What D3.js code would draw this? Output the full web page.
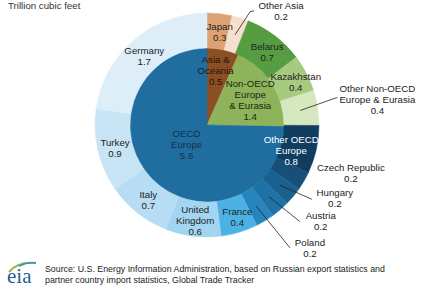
<!DOCTYPE html>
<html>
<head>
<meta charset="utf-8">
<script src="https://cdn.jsdelivr.net/npm/d3@7"></script>
<style>
  body { margin: 0; background: #fff; }
  svg { display: block; font-family: Arial, "Liberation Sans", sans-serif; }
</style>
</head>
<body>
<div id="vis-container"></div>
<script>
//data (trillion cubic feet)
let innerNames = ["Asia & Oceania", "Non-OECD Europe & Eurasia", "OECD Europe"];
let innerValues = [0.5, 1.4, 5.6];

let outerNames = ["Japan", "Other Asia", "Belarus", "Kazakhstan",
  "Other Non-OECD Europe & Eurasia", "Other OECD Europe", "Czech Republic",
  "Hungary", "Austria", "Poland", "France", "United Kingdom", "Italy",
  "Turkey", "Germany"];
//arc sizes as drawn
let outerValues = [0.27, 0.18, 0.65, 0.4, 0.38, 0.52, 0.2, 0.2, 0.2, 0.2,
  0.4, 0.6, 0.7, 0.9, 1.7];
//values as printed on the labels
let outerPrinted = [0.3, 0.2, 0.7, 0.4, 0.4, 0.8, 0.2, 0.2, 0.2, 0.2,
  0.4, 0.6, 0.7, 0.9, 1.7];

let titleText = "Trillion cubic feet";
let sourceLines = [
  "Source: U.S. Energy Information Administration, based on Russian export statistics and",
  "partner country import statistics, Global Trade Tracker"
];

//colors
let innerColors = {
  "Asia & Oceania": "#8c4f24",
  "Non-OECD Europe & Eurasia": "#8fb35a",
  "OECD Europe": "#1f6e9f"
};
let outerColors = {
  "Japan": "#dda273",
  "Other Asia": "#f6dfcf",
  "Belarus": "#559d40",
  "Kazakhstan": "#a6ca80",
  "Other Non-OECD Europe & Eurasia": "#d6e8c0",
  "Other OECD Europe": "#0f3d5f",
  "Czech Republic": "#184f78",
  "Hungary": "#1b6190",
  "Austria": "#1f72a6",
  "Poland": "#2884bd",
  "France": "#4cb2e4",
  "United Kingdom": "#a3d5f1",
  "Italy": "#b6ddf3",
  "Turkey": "#c8e5f6",
  "Germany": "#ddeef9"
};

//how each name wraps
let wrap = {
  "Asia & Oceania": ["Asia &", "Oceania"],
  "Non-OECD Europe & Eurasia": ["Non-OECD", "Europe", "& Eurasia"],
  "OECD Europe": ["OECD", "Europe"],
  "Other Non-OECD Europe & Eurasia": ["Other Non-OECD", "Europe & Eurasia"],
  "Other OECD Europe": ["Other OECD", "Europe"],
  "United Kingdom": ["United", "Kingdom"]
};

//label placement: offset from the slice centroid, optional leader end
let innerLayout = {
  "Asia & Oceania": {r: 56, dx: -3, dy: 0, color: "#24160a"},
  "Non-OECD Europe & Eurasia": {r: 50, dx: 1, dy: 2, color: "#1c2610"},
  "OECD Europe": {r: 30, dx: 1, dy: -1, color: "#14324f"}
};
let outerLayout = {
  "Japan": {dx: 2, dy: 1},
  "Other Asia": {dx: 46, dy: -24, line: [[15, -23], [19, -24]]},
  "Belarus": {dx: 3, dy: 2},
  "Kazakhstan": {dx: 5, dy: 1},
  "Other Non-OECD Europe & Eurasia": {dx: 77, dy: -11, line: [[37, -13]]},
  "Other OECD Europe": {dx: -8, dy: 5, color: "#ffffff"},
  "Czech Republic": {dx: 62, dy: 1},
  "Hungary": {dx: 55, dy: 13, line: [[32, 14]]},
  "Austria": {dx: 52, dy: 25, line: [[31, 25]]},
  "Poland": {dx: 54, dy: 42, line: [[34, 42]]},
  "France": {dx: 3, dy: 2},
  "United Kingdom": {dx: 0, dy: 2},
  "Italy": {dx: 0, dy: 1},
  "Turkey": {dx: 0, dy: 2},
  "Germany": {dx: -1, dy: 3}
};

let W = 421, H = 298;
let cx = 207, cy = 125;
let rInner = 77, rOuter = 112;
let lineH = 11;
let fmt = d3.format(".1f");

let svg = d3.select("#vis-container")
  .append("svg")
  .attr("width", W)
  .attr("height", H);

//title
svg.append("text")
  .attr("x", 8)
  .attr("y", 8.5)
  .attr("font-size", "9.7px")
  .attr("fill", "#333")
  .text(titleText);

let g = svg.append("g")
  .attr("transform", `translate(${cx}, ${cy})`);

let pie = d3.pie().sort(null).value(d => d.value);

let innerData = pie(innerNames.map((n, i) => ({name: n, value: innerValues[i]})));
let outerData = pie(outerNames.map((n, i) => ({name: n, value: outerValues[i], shown: outerPrinted[i]})));

let innerArc = d3.arc().innerRadius(0).outerRadius(rInner);
let outerArc = d3.arc().innerRadius(rInner).outerRadius(rOuter);
let midArc = d3.arc().innerRadius((rInner + rOuter) / 2).outerRadius((rInner + rOuter) / 2);

//slices
g.selectAll("path.inner")
  .data(innerData)
  .enter()
  .append("path")
  .attr("class", "inner")
  .attr("d", innerArc)
  .attr("fill", d => innerColors[d.data.name])
  .attr("stroke", d => innerColors[d.data.name])
  .attr("stroke-width", 0.5);

g.selectAll("path.outer")
  .data(outerData)
  .enter()
  .append("path")
  .attr("class", "outer")
  .attr("d", outerArc)
  .attr("fill", d => outerColors[d.data.name])
  .attr("stroke", d => outerColors[d.data.name])
  .attr("stroke-width", 0.5);

//write a centered block of lines
function block(x, y, lines, color) {
  let t = g.append("text")
    .attr("font-size", "9.7px")
    .attr("fill", color || "#222")
    .attr("text-anchor", "middle");
  lines.forEach((s, i) => {
    t.append("tspan")
      .attr("x", x)
      .attr("y", y + (i - (lines.length - 1) / 2) * lineH)
      .attr("dy", "0.35em")
      .text(s);
  });
}

//inner labels
innerData.forEach(d => {
  let lay = innerLayout[d.data.name];
  let c = d3.arc().innerRadius(lay.r).outerRadius(lay.r).centroid(d);
  let lines = (wrap[d.data.name] || [d.data.name]).concat([fmt(d.data.value)]);
  block(c[0] + lay.dx, c[1] + lay.dy, lines, lay.color);
});

//outer labels and leader lines
outerData.forEach(d => {
  let lay = outerLayout[d.data.name];
  let c = midArc.centroid(d);
  if (lay.line) {
    let pts = [c].concat(lay.line.map(p => [c[0] + p[0], c[1] + p[1]]));
    g.append("path")
      .attr("d", d3.line()(pts))
      .attr("fill", "none")
      .attr("stroke", "#222")
      .attr("stroke-width", 0.8);
  }
  let lines = (wrap[d.data.name] || [d.data.name]).concat([fmt(d.data.shown)]);
  block(c[0] + lay.dx, c[1] + lay.dy, lines, lay.color);
});

//eia logo
let logo = svg.append("g").attr("transform", "translate(6, 260)");
logo.append("path")
  .attr("d", "M3,12 Q12,1 30,3")
  .attr("fill", "none")
  .attr("stroke", "#8dbb4c")
  .attr("stroke-width", 2);
logo.append("path")
  .attr("d", "M13,6 Q21,2 30,3")
  .attr("fill", "none")
  .attr("stroke", "#3b8fc4")
  .attr("stroke-width", 1.6);
logo.append("text")
  .attr("x", 1)
  .attr("y", 23)
  .attr("font-family", "\"Liberation Serif\", \"DejaVu Serif\", serif")
  .attr("font-size", "21px")
  .attr("fill", "#1e5f93")
  .text("eia");

//source note
svg.append("g")
  .selectAll("text")
  .data(sourceLines)
  .enter()
  .append("text")
  .attr("x", 45)
  .attr("y", (d, i) => 272 + i * 10.5)
  .attr("font-size", "8.8px")
  .attr("fill", "#222")
  .text(d => d);
</script>
</body>
</html>
